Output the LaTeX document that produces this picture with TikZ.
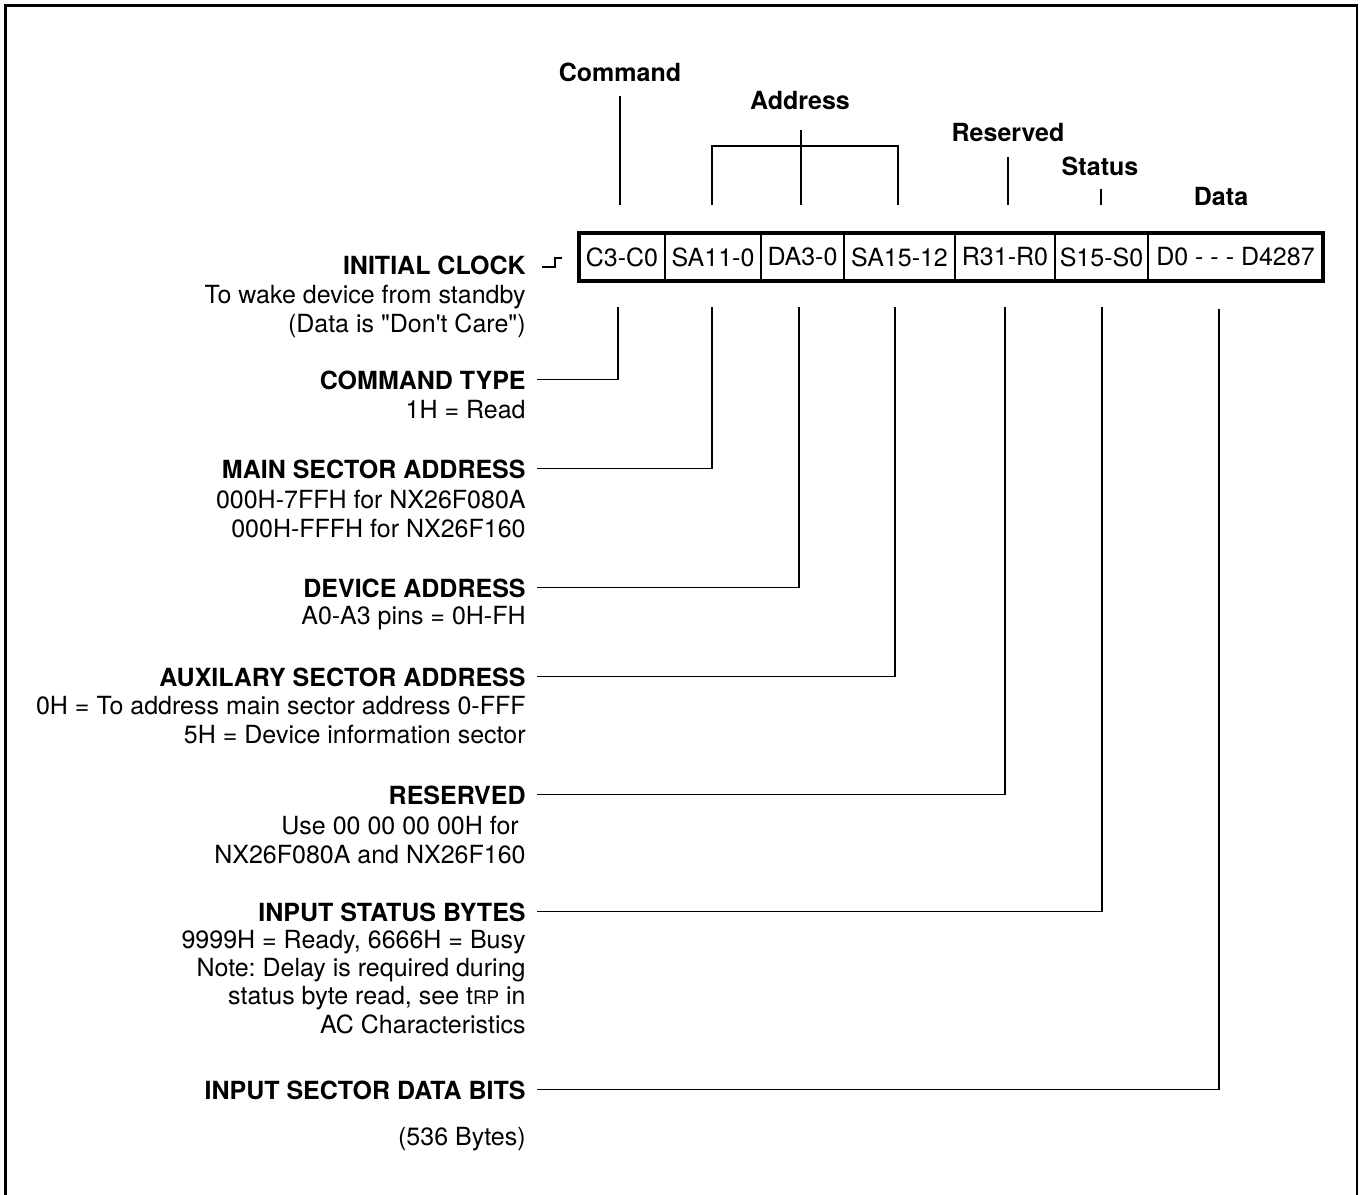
\documentclass[tikz,border=0pt]{standalone}
\usepackage{fontspec}
\setmainfont{TeX Gyre Heros}[Ligatures=TeXOff]
\usetikzlibrary{positioning}
\frenchspacing
\newcommand{\fsz}{\fontsize{12.5}{14.5}\selectfont}
\tikzset{
  lbl/.style={font=\fsz\bfseries, inner sep=0pt, anchor=base east},
  txt/.style={font=\fsz, inner sep=0pt, anchor=base east, align=right},
  grp/.style={font=\fsz\bfseries, inner sep=0pt, anchor=base},
  cell/.style={draw, line width=1.4pt, minimum height=24pt, inner sep=0pt, outer sep=0pt, font=\fsz},
  wire/.style={line width=0.6pt},
}
\begin{document}
\begin{tikzpicture}[x=0.5pt,y=-0.5pt]
\useasboundingbox (0,0) rectangle (1362,1195);
\draw[line width=1.35pt] (5.3,1195) -- (5.3,5.5) -- (1357,5.5) -- (1357,1195); %cadre

% registre
\node[cell, minimum width=43pt] (c1) at (622,257) {C3-C0};
\node[cell, minimum width=48pt, right=0pt of c1] (c2) {SA11-0};
\node[cell, minimum width=41.5pt, right=0pt of c2] (c3) {DA3-0};
\node[cell, minimum width=55.5pt, right=0pt of c3] (c4) {SA15-12};
\node[cell, minimum width=50pt, right=0pt of c4] (c5) {R31-R0};
\node[cell, minimum width=46.5pt, right=0pt of c5] (c6) {S15-S0};
\node[cell, minimum width=87.5pt, right=0pt of c6] (c7) {D0 - - - D4287};
\draw[line width=2.2pt] (c1.north west) rectangle (c7.south east);

% titres du haut
\node[grp] (lcmd) at (620,81) {Command};
\node[grp] (ladr) at (800,109) {Address};
\node[grp] (lres) at (1008,141) {Reserved};
\node[grp] (lsta) at (1100,175) {Status};
\node[grp] (ldat) at (1221,205) {Data};
\coordinate (cmdup) at (620,205);
\coordinate (adrup1) at (712,205);
\coordinate (adrup2) at (801,205);
\coordinate (adrup3) at (898,205);
\coordinate (resup) at (1008,205);
\coordinate (staup) at (1101,205);
\draw[wire] ([yshift=-7.5pt]lcmd.base) -- (cmdup);
\draw[wire] ([xshift=0.5pt,yshift=-10.5pt]ladr.base) -- (adrup2);
\draw[wire] (adrup1) -- ++(0,-59) -| (adrup3); %crochet
\draw[wire] ([yshift=-8pt]lres.base) -- (resup);
\draw[wire] ([xshift=0.5pt,yshift=-7pt]lsta.base) -- (staup);

% textes de gauche (base = derniere ligne)
\node[lbl] (iclk) at (526,274) {INITIAL CLOCK};
\node[txt] (iclkd) at (526,332) {To wake device from standby\\(Data is "Don't Care")};
\draw[line width=0.85pt] (542,267) -- (555,267) -- (555,258) -- (562,258); %front montant

\node[lbl] (ctype) at (526,389) {COMMAND TYPE};
\node[txt] (ctyped) at (526,418) {1H = Read};
\node[lbl] (msa) at (526,478) {MAIN SECTOR ADDRESS};
\node[txt] (msad) at (526,537) {000H-7FFH for NX26F080A\\000H-FFFH for NX26F160};
\node[lbl] (dev) at (526,597) {DEVICE ADDRESS};
\node[txt] (devd) at (526,624) {A0-A3 pins = 0H-FH};
\node[lbl] (aux) at (526,686) {AUXILARY SECTOR ADDRESS};
\node[txt] (auxd) at (526,743) {0H = To address main sector address 0-FFF\\5H = Device information sector};
\node[lbl] (rsv) at (526,804) {RESERVED};
\node[txt] (rsvd) at (526,863) {Use 00 00 00 00H for\rule{3.4pt}{0pt}\\NX26F080A and NX26F160};
\node[lbl] (isb) at (526,921) {INPUT STATUS BYTES};
\node[txt, font=\fontsize{12.5}{14.1}\selectfont] (isbd) at (526,1033) {9999H = Ready, 6666H = Busy\\Note: Delay is required during\\status byte read, see t{\fontsize{9.4}{10}\selectfont RP} in\\AC Characteristics};
\node[lbl] (isd) at (526,1099) {INPUT SECTOR DATA BITS};
\node[txt] (isdd) at (526,1145) {(536 Bytes)};

% liaisons du bas
\coordinate (cmdlow) at (618,307);
\coordinate (msalow) at (712,307);
\coordinate (devlow) at (799,307);
\coordinate (auxlow) at (895,307);
\coordinate (rsvlow) at (1005,307);
\coordinate (isblow) at (1102,307);
\coordinate (isdlow) at (1219,309);
\draw[wire] ([xshift=5.5pt]ctype.east) -| (cmdlow);
\draw[wire] ([xshift=5.5pt]msa.east) -| (msalow);
\draw[wire] ([xshift=5.5pt]dev.east) -| (devlow);
\draw[wire] ([xshift=5.5pt]aux.east) -| (auxlow);
\draw[wire] ([xshift=5.5pt]rsv.east) -| (rsvlow);
\draw[wire] ([xshift=5.5pt]isb.east) -| (isblow);
\draw[wire] ([xshift=5.5pt]isd.east) -| (isdlow);
\end{tikzpicture}
\end{document}
